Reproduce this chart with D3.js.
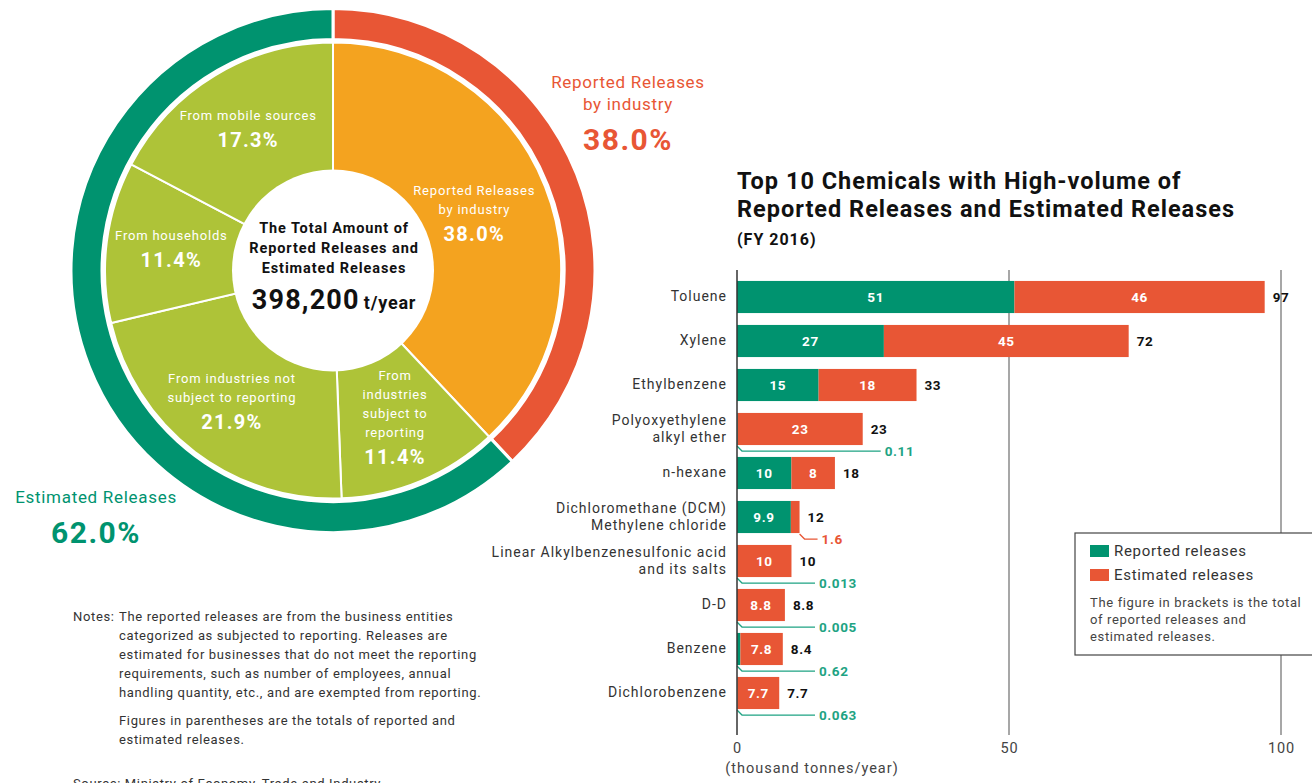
<!DOCTYPE html>
<html>
<head>
<meta charset="utf-8">
<script src="https://cdn.jsdelivr.net/npm/d3@7"></script>
<style>
  html, body { margin: 0; padding: 0; background: #fff; }
  svg { display: block; font-family: Roboto, "Open Sans", sans-serif; }
</style>
</head>
<body>
<svg id="chart" width="1312" height="783"></svg>
<script>
// ---- Donut: breakdown of the total amount of releases ----
const pieCategories = [
  ["Reported Releases", "by industry"],
  ["From", "industries", "subject to", "reporting"],
  ["From industries not", "subject to reporting"],
  ["From households"],
  ["From mobile sources"]
];
const pieShares = [38.0, 11.4, 21.9, 11.4, 17.3];
const ringCategories = ["Reported Releases", "Estimated Releases"];
const ringShares = [38.0, 62.0];
const totalAmount = "398,200";

// ---- Bar chart: top 10 chemicals (thousand tonnes/year) ----
const chemicals = [
  ["Toluene"],
  ["Xylene"],
  ["Ethylbenzene"],
  ["Polyoxyethylene", "alkyl ether"],
  ["n-hexane"],
  ["Dichloromethane (DCM)", "Methylene chloride"],
  ["Linear Alkylbenzenesulfonic acid", "and its salts"],
  ["D-D"],
  ["Benzene"],
  ["Dichlorobenzene"]
];
const reported  = [51, 27, 15, 0.11, 10, 9.9, 0.013, 0.005, 0.62, 0.063];
const estimated = [46, 45, 18, 23, 8, 1.6, 10, 8.8, 7.8, 7.7];
const totals    = [97, 72, 33, 23, 18, 12, 10, 8.8, 8.4, 7.7];
const xTicks = [0, 50, 100];

const GREEN = "#00936f", RED = "#e85635", ORANGE = "#f4a31f", LIME = "#aec338";
const CALLOUT_GREEN = "#1ea383";
const svg = d3.select("#chart");

// ===== Donut =====
const cx = 333, cy = 270.5;
const donut = svg.append("g").attr("transform", `translate(${cx},${cy})`);

const pieGen = d3.pie().sort(null).value(d => d);
const inner = pieGen(pieShares);
const innerArc = d3.arc().innerRadius(0).outerRadius(228);
const sliceColors = [ORANGE, LIME, LIME, LIME, LIME];

donut.selectAll("path.slice").data(inner).join("path")
  .attr("class", "slice")
  .attr("d", innerArc)
  .attr("fill", (d, i) => sliceColors[i])
  .attr("stroke", "#fff").attr("stroke-width", 2);

const ring = pieGen(ringShares);
const ringArc = d3.arc().innerRadius(231).outerRadius(262);
donut.selectAll("path.ring").data(ring).join("path")
  .attr("class", "ring")
  .attr("d", ringArc)
  .attr("fill", (d, i) => [RED, GREEN][i])
  .attr("stroke", "#fff").attr("stroke-width", 3);

// centre hole
donut.append("circle").attr("r", 101).attr("fill", "#fff");

// slice labels
const labelRadius = [152, 161, 167, 163, 164];
inner.forEach((d, i) => {
  const a = (d.startAngle + d.endAngle) / 2;
  const r = labelRadius[i];
  const x = Math.sin(a) * r, y = -Math.cos(a) * r;
  const lines = pieCategories[i];
  const lh = 19;
  const blockH = lines.length * lh + 26;
  const top = y - blockH / 2;
  const g = donut.append("g").attr("fill", "#fff").attr("text-anchor", "middle");
  lines.forEach((t, k) => {
    g.append("text").attr("x", x).attr("y", top + 12 + k * lh)
      .attr("font-size", 13).attr("letter-spacing", 0.8).text(t);
  });
  g.append("text").attr("x", x).attr("y", top + lines.length * lh + 20)
    .attr("font-size", 20).attr("font-weight", 700).attr("letter-spacing", 1.3)
    .text(pieShares[i].toFixed(1) + "%");
});

// centre text
const ct = donut.append("g").attr("text-anchor", "middle").attr("fill", "#111");
["The Total Amount of", "Reported Releases and", "Estimated Releases"].forEach((t, k) => {
  ct.append("text").attr("x", 1).attr("y", -38 + k * 20)
    .attr("font-size", 14.5).attr("font-weight", 700).attr("letter-spacing", 0.9).text(t);
});
const tot = ct.append("text").attr("x", 1).attr("y", 38).attr("font-weight", 700);
tot.append("tspan").attr("font-size", 27).attr("letter-spacing", 1.2).text(totalAmount);
tot.append("tspan").attr("font-size", 18).attr("dx", 4).attr("letter-spacing", 0.8).text("t/year");

// outer ring captions
const ringLabel = (x, y, lines, pct, color) => {
  const g = svg.append("g").attr("text-anchor", "middle").attr("fill", color);
  lines.forEach((t, k) => g.append("text").attr("x", x).attr("y", y + k * 22)
    .attr("font-size", 17).attr("letter-spacing", 0.7).text(t));
  g.append("text").attr("x", x).attr("y", y + (lines.length - 1) * 22 + 40)
    .attr("font-size", 30).attr("font-weight", 700).attr("letter-spacing", 1.5)
    .text(pct.toFixed(1) + "%");
};
ringLabel(628, 88, ["Reported Releases", "by industry"], ringShares[0], RED);
ringLabel(96, 503, [ringCategories[1]], ringShares[1], GREEN);

// notes
const notes = svg.append("g").attr("fill", "#333").attr("font-size", 13).attr("letter-spacing", 0.65);
notes.append("text").attr("x", 73).attr("y", 621).text("Notes:");
[
  "The reported releases are from the business entities",
  "categorized as subjected to reporting. Releases are",
  "estimated for businesses that do not meet the reporting",
  "requirements, such as number of employees, annual",
  "handling quantity, etc., and are exempted from reporting."
].forEach((t, k) => notes.append("text").attr("x", 119).attr("y", 621 + k * 19).text(t));
[
  "Figures in parentheses are the totals of reported and",
  "estimated releases."
].forEach((t, k) => notes.append("text").attr("x", 119).attr("y", 725 + k * 19).text(t));
notes.append("text").attr("x", 73).attr("y", 788).text("Source: Ministry of Economy, Trade and Industry");

// ===== Bar chart =====
const title = svg.append("g").attr("fill", "#111").attr("font-weight", 700);
title.append("text").attr("x", 737).attr("y", 189).attr("font-size", 23.5).attr("letter-spacing", 1)
  .text("Top 10 Chemicals with High-volume of");
title.append("text").attr("x", 737).attr("y", 217).attr("font-size", 23.5).attr("letter-spacing", 1)
  .text("Reported Releases and Estimated Releases");
title.append("text").attr("x", 737).attr("y", 245).attr("font-size", 16).attr("letter-spacing", 1)
  .text("(FY 2016)");

const x = d3.scaleLinear().domain([0, 100]).range([737, 1281]);
const y = d3.scaleBand().domain(d3.range(chemicals.length))
  .range([275, 715]).paddingInner(0.27).paddingOuter(0.135);
const plotTop = 270, plotBottom = 735;

// gridlines at 50 and 100
svg.append("g").selectAll("line").data(xTicks.slice(1)).join("line")
  .attr("x1", d => x(d)).attr("x2", d => x(d))
  .attr("y1", plotTop).attr("y2", plotBottom)
  .attr("stroke", "#8a8a8a").attr("stroke-width", 1.5);

// tick labels
const xAxis = d3.axisBottom(x).tickValues(xTicks).tickSize(0).tickPadding(8);
const axG = svg.append("g").attr("transform", `translate(0,${plotBottom})`).call(xAxis);
axG.select(".domain").remove();
axG.selectAll("text").attr("font-size", 14.5).attr("fill", "#444")
  .attr("font-family", "Roboto, sans-serif").attr("letter-spacing", 0.8);
svg.append("text").attr("x", 812).attr("y", 773).attr("text-anchor", "middle")
  .attr("font-size", 14.5).attr("fill", "#444").attr("letter-spacing", 1)
  .text("(thousand tonnes/year)");

// bars
const bars = svg.append("g");
chemicals.forEach((name, i) => {
  const y0 = y(i), bh = y.bandwidth();
  const r = reported[i], e = estimated[i];
  bars.append("rect").attr("x", x(0)).attr("y", y0)
    .attr("width", x(r) - x(0)).attr("height", bh).attr("fill", GREEN);
  bars.append("rect").attr("x", x(r)).attr("y", y0)
    .attr("width", x(r + e) - x(r)).attr("height", bh).attr("fill", RED);

  const cyb = y0 + bh / 2;
  const valueText = (xx, t, fill, anchor) => bars.append("text")
    .attr("x", xx).attr("y", cyb + 5).attr("text-anchor", anchor)
    .attr("fill", fill).attr("font-size", 13.5).attr("font-weight", 700)
    .attr("letter-spacing", 0.6).text(t);
  // values inside segments
  if (r >= 3) valueText((x(0) + x(r)) / 2, r, "#fff", "middle");
  if (e >= 3) valueText((x(r) + x(r + e)) / 2, e, "#fff", "middle");
  // total
  valueText(x(r + e) + 8, totals[i], "#111", "start");

  // callouts for small segments
  const yb = y0 + bh;
  const callout = (sx, end, t, color) => {
    bars.append("path")
      .attr("d", `M${sx},${yb + 1} L${sx + 5},${yb + 6} L${end},${yb + 6}`)
      .attr("fill", "none").attr("stroke", color).attr("stroke-width", 1.3);
    bars.append("text").attr("x", end + 4).attr("y", yb + 11)
      .attr("fill", color).attr("font-size", 13.5).attr("font-weight", 700)
      .attr("letter-spacing", 0.6).text(t);
  };
  if (r < 3) callout(x(0), Math.max(815, x(r + e) + 18), r, CALLOUT_GREEN);
  if (e < 3) callout(x(r + e), x(r + e) + 18, e, RED);

  // category label
  const lab = svg.append("g").attr("text-anchor", "end").attr("fill", "#333")
    .attr("font-size", 14).attr("letter-spacing", 1);
  const n = name.length, lh = 17;
  name.forEach((t, k) => lab.append("text").attr("x", 727)
    .attr("y", cyb + 4 - (n - 1) * lh / 2 + k * lh).text(t));
});

// zero axis line
svg.append("line").attr("x1", x(0)).attr("x2", x(0))
  .attr("y1", plotTop).attr("y2", plotBottom)
  .attr("stroke", "#333").attr("stroke-width", 1.5);

// legend
const lg = svg.append("g");
lg.append("rect").attr("x", 1075).attr("y", 533).attr("width", 250).attr("height", 122)
  .attr("fill", "#fff").attr("stroke", "#444").attr("stroke-width", 1.2);
[["Reported releases", GREEN], ["Estimated releases", RED]].forEach(([t, c], k) => {
  lg.append("rect").attr("x", 1090).attr("y", 545 + k * 24).attr("width", 19).attr("height", 12).attr("fill", c);
  lg.append("text").attr("x", 1114).attr("y", 556 + k * 24).attr("font-size", 15)
    .attr("letter-spacing", 0.7).attr("fill", "#333").text(t);
});
["The figure in brackets is the total", "of reported releases and", "estimated releases."]
  .forEach((t, k) => lg.append("text").attr("x", 1090).attr("y", 607 + k * 17)
    .attr("font-size", 13).attr("letter-spacing", 0.65).attr("fill", "#444").text(t));
</script>
</body>
</html>
